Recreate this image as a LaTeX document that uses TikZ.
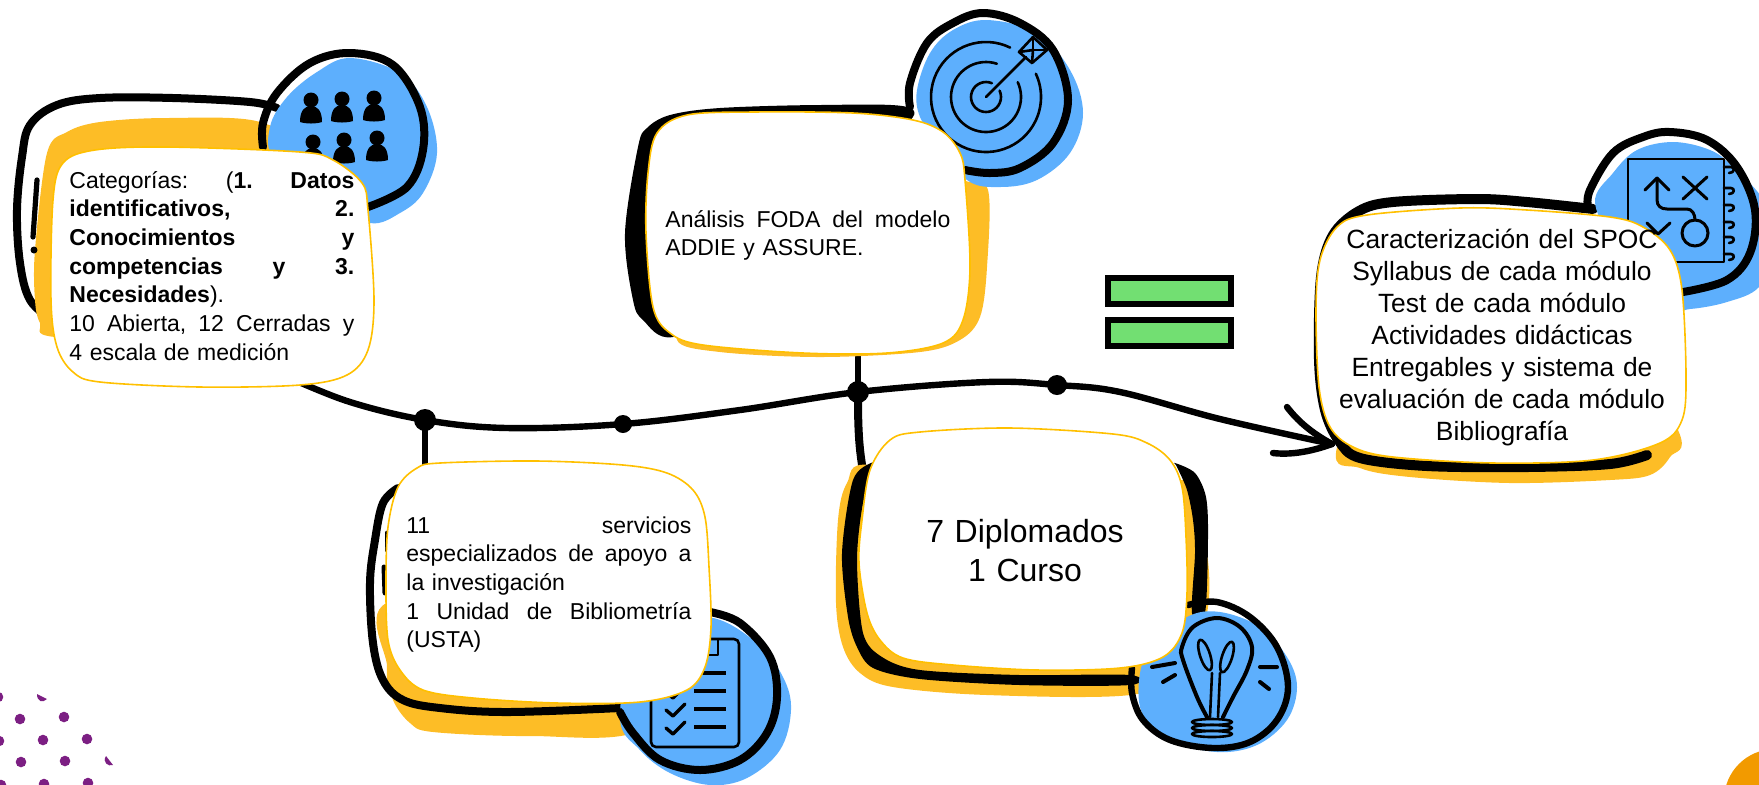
\documentclass[tikz,border=0pt]{standalone}
\usepackage{fontspec}
\setmainfont{Liberation Sans}
\pgfdeclarelayer{back}
\pgfsetlayers{back,main}
\definecolor{yel}{HTML}{FDBD26}
\definecolor{blu}{HTML}{5DAFFD}
\definecolor{grn}{HTML}{72DF72}
\definecolor{pur}{HTML}{7C1F83}
\definecolor{org}{HTML}{F29A00}
\definecolor{edge}{HTML}{FFC000}
\tikzset{
  ink/.style={draw=black,line cap=round,line join=round},
  thick8/.style={ink,line width=4pt},
  thin3/.style={ink,line width=1.3pt},
  mid4/.style={ink,line width=2pt},
  conn/.style={ink,line width=3.2pt},
  card/.style={fill=white,draw=edge,line width=.8pt},
  junction/.style={circle,fill=black,inner sep=0pt,minimum size=11pt},
  smalltxt/.style={inner sep=0pt,text width=142.5pt,anchor=base west,font=\fontsize{11.5}{14.35}\selectfont},
  midtxt/.style={inner sep=0pt,text width=175pt,align=center,anchor=base,font=\fontsize{13.2}{16}\selectfont},
  bigtxt/.style={inner sep=0pt,text width=120pt,align=center,anchor=base,font=\fontsize{16}{19.5}\selectfont},
  person/.pic={\fill (0,-10) circle[radius=7.5]; \fill (-11,12) .. controls (-11,0) and (-6,-4) .. (0,-4) .. controls (6,-4) and (11,0) .. (11,12) .. controls (5,14) and (-5,14) .. (-11,12) -- cycle;},
}
\begin{document}
\begin{tikzpicture}[x=.5pt,y=-.5pt]
\useasboundingbox (0,0) rectangle (1759,784);
% text nodes
\node[smalltxt] (box1) at (69,188) {Categorías: \hfill (\textbf{1.} \hfill \textbf{Datos}\\
\textbf{identificativos,} \hfill \textbf{2.}\\
\textbf{Conocimientos} \hfill \textbf{y}\\
\textbf{competencias} \hfill \textbf{y} \hfill \textbf{3.}\\
\textbf{Necesidades}).\\
10 \hfill Abierta, \hfill 12 \hfill Cerradas \hfill y\\
4 escala de medición};
\node[smalltxt] (box2) at (665,227) {Análisis \hfill FODA \hfill del \hfill modelo\\ADDIE y ASSURE.};
\node[midtxt] (box3) at (1502,248) {Caracterización del SPOC\\Syllabus de cada módulo\\Test de cada módulo\\Actividades didácticas\\Entregables y sistema de\\evaluación de cada módulo\\Bibliografía};
\node[smalltxt] (box4) at (406,533) {11 \hfill servicios\\especializados \hfill de \hfill apoyo \hfill a\\la investigación\\1 \hfill Unidad \hfill de \hfill Bibliometría\\(USTA)};
\node[bigtxt] (box5) at (1025,542) {7 Diplomados\\1 Curso};
% junctions
\node[junction] (j1) at (425,420) {};
\node[junction,minimum size=9pt] (j2) at (623,424) {};
\node[junction] (j3) at (858,392) {};
\node[junction,minimum size=10pt] (j4) at (1057,385) {};
\coordinate (c0) at (290,378);
\coordinate (tip) at (1332,444);
\begin{pgfonlayer}{back}
\clip (0,0) rectangle (1759,784);
% timeline and connectors
\draw[conn] plot[smooth,tension=.6] coordinates {(c0) (350,402) (j1.center) (507,428) (j2.center) (740,410) (j3.center) (987,382) (j4.center) (1120,392) (1220,419) (tip)};
\draw[conn] (tip) .. controls (1310,432) and (1297,420) .. (1287,407);
\draw[conn] (tip) .. controls (1310,452) and (1290,455) .. (1273,453);
\draw[conn] (j1.center) -- (j1.center |- box4.center);
\draw[conn] (j3.center) -- (j3.center |- box2.center);
\draw[conn,line width=4pt] (j3.center) .. controls (858,420) and (858,450) .. (865,480);
% equals
\draw[fill=grn,line width=3pt,draw=black] (1108,278) rectangle (1231,304);
\draw[fill=grn,line width=3pt,draw=black] (1108,320) rectangle (1231,346);
% corner decorations
\fill[org] (1775,800) circle[radius=51];
\foreach \p in {(-2,697),(20,719),(64,717),(-1,741),(43,740),(87,739),(21,762),(65,761),(1,785),(44,784),(88,783)} \fill[pur] \p circle[radius=5.3];
\fill[pur] (37,694) .. controls (37,702) and (43,703) .. (47,699) -- cycle;
\fill[pur] (106,756) .. controls (102,762) and (108,767) .. (113,765) -- cycle;
% ---- box 1
\draw[thick8] plot[smooth,tension=.6] coordinates {(277,108) (250,102) (173,98) (100,98) (57,105) (30,125) (22,157) (17,210) (20,263) (30,300) (52,320)};
\fill[yel] plot[smooth cycle,tension=.55] coordinates {(260,122) (167,118) (100,122) (67,132) (47,153) (35,250) (35,300) (40,323) (55,337) (200,340) (300,300) (300,160)};
\draw[ink,line width=2.6pt] (37,180) -- (33,237);
\fill (34,250) circle[radius=3.5];
\fill[blu] plot[smooth cycle,tension=.6] coordinates {(350,58) (400,73) (427,107) (437,153) (423,193) (400,213) (370,223) (330,200) (275,160) (270,127) (287,97) (317,72)};
\draw[thick8] plot[smooth,tension=.6] coordinates {(263,147) (263,123) (277,93) (310,63) (350,53) (393,65) (420,107) (423,150) (407,187) (368,207)};
\foreach \p in {(311,110),(342,109),(374,108),(313,152),(344,150),(377,148)} \pic at \p {person};
\draw[card] plot[smooth cycle,tension=.55] coordinates {(95,150) (167,147) (300,152) (333,160) (362,183) (368,210) (374,300) (368,350) (347,375) (300,385) (200,387) (100,382) (73,372) (57,347) (51,300) (53,200) (63,163)};
% ---- box 2
\fill plot[smooth cycle,tension=.55] coordinates {(907,107) (820,105) (720,108) (670,115) (647,128) (638,147) (625,233) (633,300) (643,320) (673,337) (750,300) (800,200) (900,130)};
\fill[yel] plot[smooth cycle,tension=.55] coordinates {(963,180) (988,190) (987,267) (980,317) (960,340) (920,352) (820,357) (720,352) (677,340) (700,300) (800,150) (900,150)};
\fill[blu] plot[smooth cycle,tension=.6] coordinates {(917,90) (930,53) (953,30) (987,20) (1037,33) (1070,70) (1083,113) (1070,153) (1037,180) (1000,187) (967,180) (937,140) (920,117)};
\draw[thick8] plot[smooth,tension=.6] coordinates {(910,107) (910,83) (927,43) (953,23) (983,13) (1020,23) (1053,50) (1068,100) (1053,143) (1020,168) (990,173) (965,170)};
\foreach \r/\a in {7.5/67,17.5/72,27.5/64} \draw[thin3] (986,97) ++(\a:\r pt) arc[start angle=\a,end angle=385,radius=\r pt];
\draw[thin3] (986,97) -- (1026,57);
\draw[thin3] (1019,52) -- (1033,37) -- (1047,50) -- (1032,63) -- cycle;
\draw[thin3] (1033,37) -- (1033,50) -- (1047,50);
\draw[thin3] (1019,52) -- (1033,50) -- (1032,63);
\draw[card] plot[smooth cycle,tension=.55] coordinates {(687,115) (753,112) (853,113) (913,120) (943,132) (960,153) (965,180) (970,267) (963,320) (943,343) (887,353) (803,353) (703,345) (670,333) (653,307) (646,233) (648,173) (657,133)};
% ---- box 3
\fill[yel] plot[smooth cycle,tension=.55] coordinates {(1337,447) (1360,468) (1410,477) (1510,483) (1610,480) (1650,475) (1670,457) (1678,430) (1600,300) (1400,300)};
\draw[ink,line width=5pt] plot[smooth,tension=.55] coordinates {(1593,209) (1527,202) (1477,199) (1393,202) (1359,211) (1333,235) (1321,277) (1319,360) (1325,410) (1339,441) (1360,458) (1427,466) (1527,467) (1610,464) (1647,455)};
\fill[blu] plot[smooth cycle,tension=.6] coordinates {(1595,203) (1613,173) (1637,150) (1673,142) (1710,150) (1733,167) (1765,203) (1775,250) (1759,287) (1727,302) (1690,309) (1667,307) (1620,250)};
\draw[thick8] plot[smooth,tension=.6] coordinates {(1588,207) (1590,190) (1613,153) (1643,137) (1670,132) (1707,140) (1737,167) (1755,210) (1750,253) (1727,280) (1683,292)};
\draw[thin3,line cap=butt] (1628,159) rectangle (1724,262);
\foreach \y in {167,188,205,222,237,254} \draw[thin3] (1724,\y) -- (1731,\y) .. controls (1735,\y) and (1735,\y+6) .. (1729,\y+6);
\draw[mid4,line width=1.5pt] (1645,190) -- (1657,178) -- (1669,190);
\draw[mid4,line width=1.5pt] (1657,178) -- (1657,200) .. controls (1657,206) and (1661,209) .. (1667,209) -- (1687,209) .. controls (1692,209) and (1695,214) .. (1695,220);
\draw[mid4,line width=1.5pt] (1695,233) circle[radius=13];
\draw[mid4,line width=1.5pt] (1683,177) -- (1707,199) (1707,177) -- (1683,199);
\draw[mid4,line width=1.5pt] (1670,223) -- (1658,234) -- (1647,223);
\draw[card] plot[smooth cycle,tension=.55] coordinates {(1460,208) (1527,210) (1610,217) (1643,227) (1670,250) (1682,290) (1686,377) (1682,420) (1660,443) (1593,460) (1493,463) (1393,457) (1353,447) (1330,427) (1319,387) (1316,310) (1320,260) (1337,227) (1367,215)};
% ---- box 4
\fill[yel] plot[smooth cycle,tension=.55] coordinates {(387,667) (393,700) (410,723) (433,732) (530,736) (640,730) (680,650) (400,600)};
\draw[thick8] plot[smooth,tension=.6] coordinates {(398,488) (383,503) (375,540) (370,583) (373,643) (383,680) (403,700) (440,708) (507,712) (620,708)};
\draw[ink,line width=2.5pt] (387,533) -- (387,550);
\draw[ink,line width=2.5pt] (384,567) -- (385,593);
\fill[blu] plot[smooth cycle,tension=.6] coordinates {(707,617) (757,643) (783,677) (791,710) (780,750) (747,778) (710,785) (670,773) (640,750) (620,717) (640,633)};
\draw[thick8] plot[smooth,tension=.6] coordinates {(710,612) (740,623) (770,657) (777,697) (767,733) (740,760) (700,770) (660,760) (633,733) (620,712)};
\draw[thin3,rounded corners=2.5pt] (651,639) rectangle (739,747);
\draw[thin3] (718,640) -- (718,655) -- (706,655);
\foreach \y in {673,691,709,727} \draw[ink,line width=2pt,line cap=butt] (694,\y) -- (726,\y);
\foreach \y in {692,710,728} \draw[ink,line width=1.7pt] (666,\y) -- (673,\y+6) -- (685,\y-6);
\draw[card] plot[smooth cycle,tension=.55] coordinates {(440,463) (537,461) (623,465) (667,473) (693,490) (705,517) (709,567) (711,627) (705,667) (687,690) (640,702) (557,703) (473,698) (423,690) (400,670) (388,640) (386,583) (388,527) (398,487) (417,468)};
% ---- box 5
\fill[yel] plot[smooth cycle,tension=.55] coordinates {(870,465) (847,483) (838,520) (836,603) (843,647) (860,673) (893,687) (987,695) (1130,695) (1190,670) (1208,607) (1207,553) (1193,497) (1180,480) (1000,500)};
\fill plot[smooth cycle,tension=.5] coordinates {(873,462) (853,480) (842,553) (848,617) (857,647) (873,668) (920,679) (1020,685) (1130,685) (1130,675) (1020,675) (920,670) (882,657) (863,633) (857,560) (863,503) (875,467)};
\fill plot[smooth cycle,tension=.5] coordinates {(1175,463) (1195,473) (1206,497) (1208,537) (1205,613) (1192,613) (1195,553) (1193,520) (1187,490) (1177,467)};
\fill[blu] plot[smooth cycle,tension=.6] coordinates {(1187,617) (1220,612) (1260,627) (1287,657) (1297,687) (1287,720) (1257,745) (1217,752) (1170,740) (1142,713) (1140,673) (1153,647)};
\draw[ink,line width=3.2pt] plot[smooth,tension=.6] coordinates {(1188,605) (1217,602) (1250,617) (1277,647) (1288,687) (1277,720) (1250,742) (1213,748) (1170,740) (1143,720) (1132,693) (1132,668)};
\draw[mid4] plot[smooth,tension=.6] coordinates {(1207,717) (1197,697) (1183,660) (1182,647) (1193,627) (1217,618) (1240,627) (1252,647) (1247,670) (1233,697) (1223,717)};
\draw[thin3,rotate around={18:(1205,655)}] (1205,655) ellipse[x radius=5,y radius=16];
\draw[thin3,rotate around={-18:(1227,657)}] (1227,657) ellipse[x radius=5,y radius=16];
\draw[thin3] (1212,673) -- (1210,717) (1220,673) -- (1218,717);
\foreach \y in {722,728,734} \draw[thin3,fill=blu] (1212,\y) ellipse[x radius=20,y radius=3];
\draw[mid4] (1152,667) -- (1175,663) (1163,682) -- (1175,675) (1260,667) -- (1277,667) (1260,682) -- (1269,689);
\draw[card] plot[smooth cycle,tension=.55] coordinates {(920,432) (1010,428) (1113,434) (1147,443) (1170,460) (1182,487) (1186,537) (1187,593) (1182,633) (1163,657) (1120,668) (1037,670) (953,665) (903,658) (880,640) (867,613) (859,563) (862,520) (870,470) (890,440)};
\end{pgfonlayer}
\end{tikzpicture}
\end{document}
